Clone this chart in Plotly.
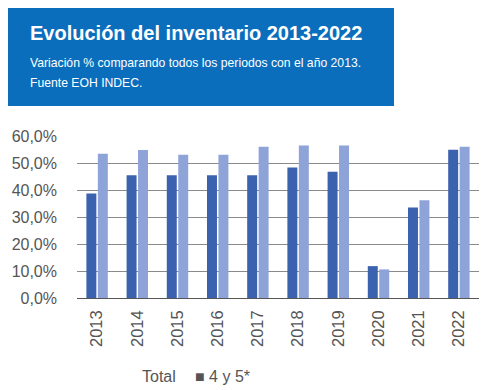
import plotly.graph_objects as go

years = ["2013", "2014", "2015", "2016", "2017", "2018", "2019", "2020", "2021", "2022"]
total = [38.7, 45.5, 45.5, 45.5, 45.5, 48.3, 46.8, 11.8, 33.5, 54.9]
cat_45 = [53.4, 54.8, 53.1, 53.1, 56.0, 56.5, 56.5, 10.6, 36.2, 56.0]
yticks = [0, 10, 20, 30, 40, 50, 60]
yticklabels = [f"{v:.1f}".replace(".", ",") + "%" for v in yticks]

OFF = 8  # page body margin
W, H = 497 - OFF, 390 - OFF
L, R, T, B = 77 - OFF, 497 - 479, 136 - OFF, 390 - 298
PW, PH = W - L - R, H - T - B

fig = go.Figure()
fig.add_bar(x=years, y=total, name="Total", marker_color="#3B62AE", marker_line_width=0)
fig.add_bar(x=years, y=cat_45, name="4 y 5*", marker_color="#8EA3D8", marker_line_width=0)

font_fam = "Liberation Sans, Arial, sans-serif"
fig.update_layout(
    width=W, height=H,
    margin=dict(l=L, r=R, t=T, b=B, autoexpand=False),
    paper_bgcolor="white", plot_bgcolor="white",
    barmode="group", bargap=0.43, bargroupgap=0.13,
    showlegend=False,
    font=dict(family=font_fam, color="#555555"),
    xaxis=dict(tickangle=-90, tickfont=dict(size=16.5, color="#555555"),
               showgrid=False, showline=False, ticks="", ticklen=0, automargin=False,
               ticklabelstandoff=8),
    yaxis=dict(range=[0, 60], tickvals=yticks, ticktext=yticklabels,
               tickfont=dict(size=16, color="#555555"),
               showgrid=True, gridcolor="#8a8a8a", gridwidth=1,
               zeroline=True, zerolinecolor="#555555", zerolinewidth=1,
               showline=False, ticks="", ticklabelstandoff=19, automargin=False),
)

def px(xp, yp):
    xp -= OFF
    yp -= OFF
    return (xp - L) / PW, 1 - (yp - T) / PH

x0, y1 = px(8, 7)
x1, y0 = px(394, 106)
fig.add_shape(type="rect", xref="paper", yref="paper",
              x0=x0, x1=x1, y0=y0, y1=y1,
              fillcolor="#0A6EBD", line_width=0, layer="below")

x, y = px(28, 33)
fig.add_annotation(text="<b>Evolución del inventario 2013-2022</b>", xref="paper", yref="paper",
                   x=x, y=y, xanchor="left", yanchor="middle", showarrow=False,
                   font=dict(size=20, color="white", family=font_fam))
x, y = px(28, 63)
fig.add_annotation(text="Variación % comparando todos los periodos con el año 2013.", xref="paper", yref="paper",
                   x=x, y=y, xanchor="left", yanchor="middle", showarrow=False,
                   font=dict(size=12.2, color="white", family=font_fam))
x, y = px(28, 83)
fig.add_annotation(text="Fuente EOH INDEC.", xref="paper", yref="paper",
                   x=x, y=y, xanchor="left", yanchor="middle", showarrow=False,
                   font=dict(size=12.2, color="white", family=font_fam))
# legend
x, y = px(140, 376)
fig.add_annotation(text="Total", xref="paper", yref="paper",
                   x=x, y=y, xanchor="left", yanchor="middle", showarrow=False,
                   font=dict(size=16, color="#555555", family=font_fam))
x, y = px(193, 376)
fig.add_annotation(text="■ 4 y 5*", xref="paper", yref="paper",
                   x=x, y=y, xanchor="left", yanchor="middle", showarrow=False,
                   font=dict(size=16, color="#555555", family=font_fam))

fig.write_html("out.html")
